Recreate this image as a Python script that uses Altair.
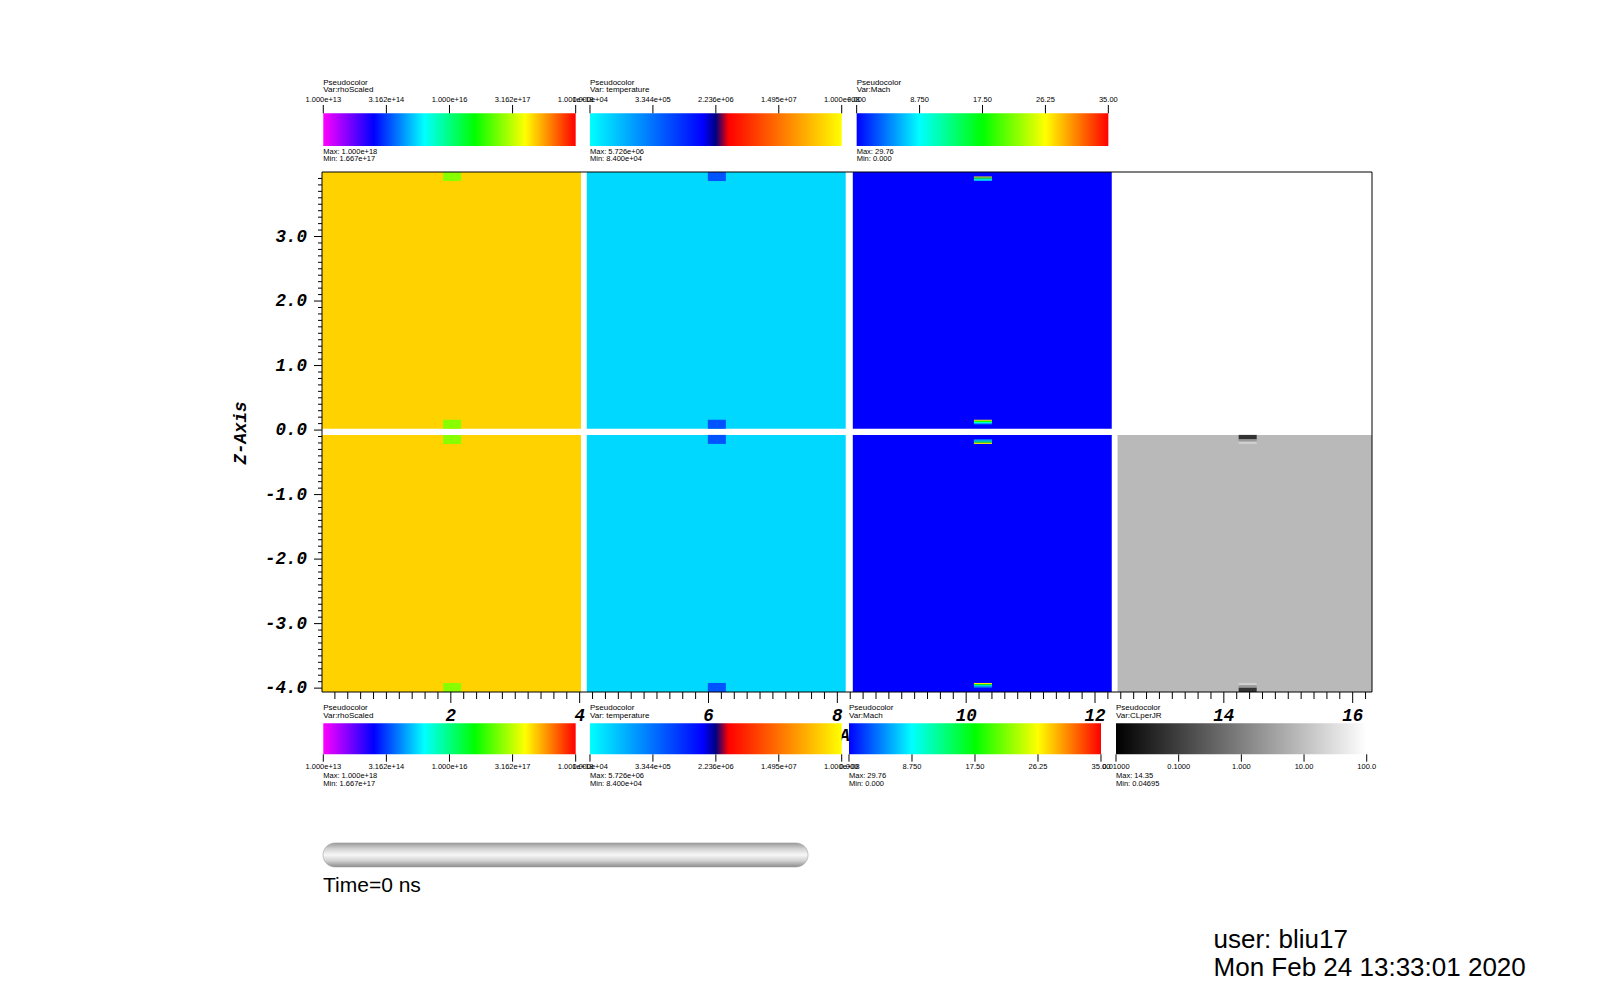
import altair as alt
import numpy as np
import pandas as pd

# ------------------------------------------------------------------ data
variables = ["rhoScaled", "temperature", "Mach", "CLperJR"]
panel_x0 = [0.0, 4.11, 8.24, 12.35]        # translated copies of the x in [0, 4] mesh
panel_w = 4.02
upper_band = [0.02, 4.0]
lower_band = [-4.06, -0.075]
has_upper = [True, True, True, False]
bulk_values = [1.5e17, 1.9e4, 0.0, 7.9]

marker_x = [1.88, 2.16]
marker_bands = [[3.86, 4.0], [0.02, 0.16], [-0.215, -0.075], [-4.06, -3.92]]
rho_marker_value = 3.4e16
temp_marker_value = 1.6e5
mach_stripe_values = [27.0, 18.0, 10.0, 6.0]
cl_dark_value = 0.063
cl_light_values = [2.5, 18.0]

bar_vars = ["Var:rhoScaled", "Var: temperature", "Var:Mach", "Var:CLperJR"]
bar_ticks = [
    ["1.000e+13", "3.162e+14", "1.000e+16", "3.162e+17", "1.000e+18"],
    ["1.000e+04", "3.344e+05", "2.236e+06", "1.495e+07", "1.000e+08"],
    ["0.000", "8.750", "17.50", "26.25", "35.00"],
    ["0.01000", "0.1000", "1.000", "10.00", "100.0"],
]
bar_max = ["1.000e+18", "5.726e+06", "29.76", "14.35"]
bar_min = ["1.667e+17", "8.400e+04", "0.000", "0.04695"]

cmap_limits = {"rhoScaled": (1e13, 1e18, "log"), "temperature": (1e4, 1e8, "log"),
               "Mach": (0.0, 35.0, "linear"), "CLperJR": (0.01, 100.0, "log")}
cmap_stops = {
    "rhoScaled": [(0, "#ff00ff"), (0.2, "#0000ff"), (0.4, "#00ffff"), (0.6, "#00ff00"), (0.8, "#ffff00"), (1, "#ff0000")],
    "temperature": [(0, "#00ffff"), (0.45, "#0000ff"), (0.5, "#000080"), (0.55, "#ff0000"), (1, "#ffff00")],
    "Mach": [(0, "#0000ff"), (0.25, "#00ffff"), (0.5, "#00ff00"), (0.75, "#ffff00"), (1, "#ff0000")],
    "CLperJR": [(0, "#000000"), (1, "#ffffff")],
}

x_major = [2, 4, 6, 8, 10, 12, 14, 16]
x_major_labels = ["2", "4", "6", "8", "10", "12", "14", "16"]
z_major = [-4, -3, -2, -1, 0, 1, 2, 3]
z_major_labels = ["-4.0", "-3.0", "-2.0", "-1.0", "0.0", "1.0", "2.0", "3.0"]
x_minor = [round(v / 5, 1) for v in range(1, 82) if v % 10 != 0]
z_minor = [round(v / 10, 1) for v in range(-40, 41) if v % 10 != 0]

time_text = "Time=0 ns"
user_text = "user: bliu17"
date_text = "Mon Feb 24 13:33:01 2020"

# ------------------------------------------------------------------ layout
W, H = 1050, 520
X_MAX = 16.3
XS = alt.Scale(domain=[0, X_MAX], nice=False, zero=False)
YS = alt.Scale(domain=[-4.06, 4.0], nice=False, zero=False)
top_bar_x = [[0.02, 3.938], [4.16, 8.068], [8.30, 12.207]]
bot_bar_x = [[0.02, 3.938], [4.16, 8.068], [8.181, 12.093], [12.326, 16.218]]
top_lay = dict(bar=(4.403, 4.910), tick=(4.910, 5.039), lab=5.116, pseudo=5.384, var=5.271, mx=4.315, mn=4.197)
bot_lay = dict(bar=(-5.026, -4.545), tick=(-5.140, -5.026), lab=-5.218, pseudo=-4.303, var=-4.427, mx=-5.362, mn=-5.491)

# ------------------------------------------------------------------ cells
cells = []


def add(var, x0, x1, z0, z1, v):
    cells.append(dict(var=var, x0=x0, x1=min(x1, X_MAX), z0=z0, z1=z1, value=v))


for i, var in enumerate(variables):
    off = panel_x0[i]
    if has_upper[i]:
        add(var, off, off + panel_w, upper_band[0], upper_band[1], bulk_values[i])
    add(var, off, off + panel_w, lower_band[0], lower_band[1], bulk_values[i])
    mx0, mx1 = off + marker_x[0], off + marker_x[1]
    for k, (a, b) in enumerate(marker_bands):
        if k < 2 and not has_upper[i]:
            continue
        h = (b - a) / 2
        if var == "rhoScaled":
            add(var, mx0, mx1, a, b, rho_marker_value)
        elif var == "temperature":
            add(var, mx0, mx1, a, b, temp_marker_value)
        elif var == "Mach":
            lo = a if k in (0, 2) else b - h
            vals = mach_stripe_values if k != 2 else mach_stripe_values[::-1]
            s = h / len(vals)
            for j, v in enumerate(vals):       # listed top -> bottom
                top = lo + h - j * s
                add(var, mx0, mx1, top - s, top, v)
        else:
            s = h / len(cl_light_values)
            if k == 2:
                add(var, mx0, mx1, a + h, b, cl_dark_value)
                for j, v in enumerate(cl_light_values):
                    top = a + h - j * s
                    add(var, mx0, mx1, top - s, top, v)
            else:
                add(var, mx0, mx1, a, a + h, cl_dark_value)
                for j, v in enumerate(cl_light_values[::-1]):
                    top = b - j * s
                    add(var, mx0, mx1, top - s, top, v)

cells_df = pd.DataFrame(cells)


def color_scale(var):
    lo, hi, kind = cmap_limits[var]
    ps = [p for p, _ in cmap_stops[var]]
    if kind == "log":
        la, lb = np.log10(lo), np.log10(hi)
        dom = [float(10 ** (la + p * (lb - la))) for p in ps]
    else:
        dom = [float(lo + p * (hi - lo)) for p in ps]
    return alt.Scale(type=kind, domain=dom, range=[c for _, c in cmap_stops[var]],
                     interpolate="rgb", clamp=True)


def gradient(stops, vertical=False):
    return alt.LinearGradient(
        gradient="linear",
        stops=[alt.GradientStop(offset=float(p), color=c) for p, c in stops],
        x1=0, x2=0 if vertical else 1, y1=0, y2=1 if vertical else 0)


def ex(f):
    return alt.X(f"{f}:Q", scale=XS, axis=None)


def ey(f):
    return alt.Y(f"{f}:Q", scale=YS, axis=None)


MONO = "Liberation Mono"
SANS = "Liberation Sans"
axis_text = dict(font=MONO, fontSize=17.5, fontWeight="bold", fontStyle="italic", color="black")

layers = []
for i, var in enumerate(variables):
    d = cells_df[cells_df["var"] == var]
    layers.append(
        alt.Chart(d).mark_rect(strokeWidth=0).encode(
            x=ex("x0"), x2=alt.X2("x1"), y=ey("z0"), y2=alt.Y2("z1"),
            color=alt.Color("value:Q", scale=color_scale(var), legend=None)))

# axes: ticks, labels and titles (drawn through the same scales)
rule = dict(color="black", strokeWidth=1)
layers.append(alt.Chart(pd.DataFrame({"t": x_minor})).mark_rule(**rule).encode(
    x=ex("t"), y=alt.value(H), y2=alt.value(H + 7)))
layers.append(alt.Chart(pd.DataFrame({"t": x_major})).mark_rule(**rule).encode(
    x=ex("t"), y=alt.value(H), y2=alt.value(H + 11)))
layers.append(alt.Chart(pd.DataFrame({"t": z_minor})).mark_rule(**rule).encode(
    y=ey("t"), x=alt.value(0), x2=alt.value(-4)))
layers.append(alt.Chart(pd.DataFrame({"t": z_major})).mark_rule(**rule).encode(
    y=ey("t"), x=alt.value(0), x2=alt.value(-8)))
layers.append(alt.Chart(pd.DataFrame({"t": x_major, "lab": x_major_labels})).mark_text(
    align="center", baseline="middle", **axis_text).encode(
    x=ex("t"), y=alt.value(H + 24), text="lab:N"))
layers.append(alt.Chart(pd.DataFrame({"t": z_major, "lab": z_major_labels})).mark_text(
    align="right", baseline="middle", **axis_text).encode(
    y=ey("t"), x=alt.value(-15), text="lab:N"))
layers.append(alt.Chart(pd.DataFrame({"lab": ["Z-Axis"]})).mark_text(
    align="center", baseline="middle", angle=270, **axis_text).encode(
    x=alt.value(-81), y=alt.value(261), text="lab:N"))
layers.append(alt.Chart(pd.DataFrame({"lab": ["X-Axis"]})).mark_text(
    align="center", baseline="middle", **axis_text).encode(
    x=alt.value(528), y=alt.value(H + 44), text="lab:N"))

# frame
layers.append(
    alt.Chart(pd.DataFrame({"k": [0]})).mark_rect(filled=False, stroke="black", strokeWidth=1).encode(
        x=alt.value(0), x2=alt.value(W), y=alt.value(0), y2=alt.value(H)))

# colour bars
ticks, tlabels, texts = [], [], []
bars = [(top_lay, i, xs) for i, xs in enumerate(top_bar_x)] + [(bot_lay, i, xs) for i, xs in enumerate(bot_bar_x)]
for lay, i, (bx0, bx1) in bars:
    var = variables[i]
    bdf = pd.DataFrame({"x0": [bx0], "x1": [bx1], "z0": [lay["bar"][0]], "z1": [lay["bar"][1]]})
    layers.append(alt.Chart(bdf).mark_rect(fill=gradient(cmap_stops[var]), strokeWidth=0).encode(
        x=ex("x0"), x2=alt.X2("x1"), y=ey("z0"), y2=alt.Y2("z1")))
    for j, lab in enumerate(bar_ticks[i]):
        xx = bx0 + (bx1 - bx0) * j / 4
        ticks.append(dict(x=xx, z0=lay["tick"][0], z1=lay["tick"][1]))
        tlabels.append(dict(x=xx, z=lay["lab"], text=lab))
    texts.append(dict(x=bx0, z=lay["pseudo"], text="Pseudocolor", size=8))
    texts.append(dict(x=bx0, z=lay["var"], text=bar_vars[i], size=8))
    texts.append(dict(x=bx0, z=lay["mx"], text="Max: " + bar_max[i], size=7.5))
    texts.append(dict(x=bx0, z=lay["mn"], text="Min: " + bar_min[i], size=7.5))

layers.append(alt.Chart(pd.DataFrame(ticks)).mark_rule(**rule).encode(
    x=ex("x"), y=ey("z0"), y2=alt.Y2("z1")))
layers.append(alt.Chart(pd.DataFrame(tlabels)).mark_text(
    align="center", baseline="middle", font=SANS, fontSize=7.5, color="black").encode(
    x=ex("x"), y=ey("z"), text="text:N"))
layers.append(alt.Chart(pd.DataFrame(texts)).mark_text(
    align="left", baseline="middle", font=SANS, color="black").encode(
    x=ex("x"), y=ey("z"), text="text:N", size=alt.Size("size:Q", scale=None)))

# time slider
slider = pd.DataFrame({"x0": [0.016], "x1": [7.545], "z0": [-6.772], "z1": [-6.40]})
layers.append(alt.Chart(slider).mark_rect(
    cornerRadius=12, stroke="#a0a0a0", strokeWidth=0.6,
    fill=gradient([(0, "#9a9a9a"), (0.25, "#d4d4d4"), (0.5, "#f7f7f7"), (0.75, "#d0d0d0"), (1, "#8c8c8c")], vertical=True)
).encode(x=ex("x0"), x2=alt.X2("x1"), y=ey("z0"), y2=alt.Y2("z1")))

layers.append(alt.Chart(pd.DataFrame({"x": [0.016], "z": [-7.07], "text": [time_text]})).mark_text(
    align="left", baseline="middle", font=SANS, fontSize=21, color="black").encode(
    x=ex("x"), y=ey("z"), text="text:N"))
layers.append(alt.Chart(pd.DataFrame({"x": [13.84, 13.84], "z": [-7.90, -8.338],
                                      "text": [user_text, date_text]})).mark_text(
    align="left", baseline="middle", font=SANS, fontSize=26, color="black").encode(
    x=ex("x"), y=ey("z"), text="text:N"))

chart = alt.layer(*layers).resolve_scale(color="independent").properties(
    width=W, height=H,
    padding={"left": 314, "top": 164, "right": 200, "bottom": 290},
    autosize=alt.AutoSizeParams(type="none"),
    background="white",
).configure_view(stroke=None)

chart.save("out.html", embed_options={"renderer": "svg", "actions": False})
